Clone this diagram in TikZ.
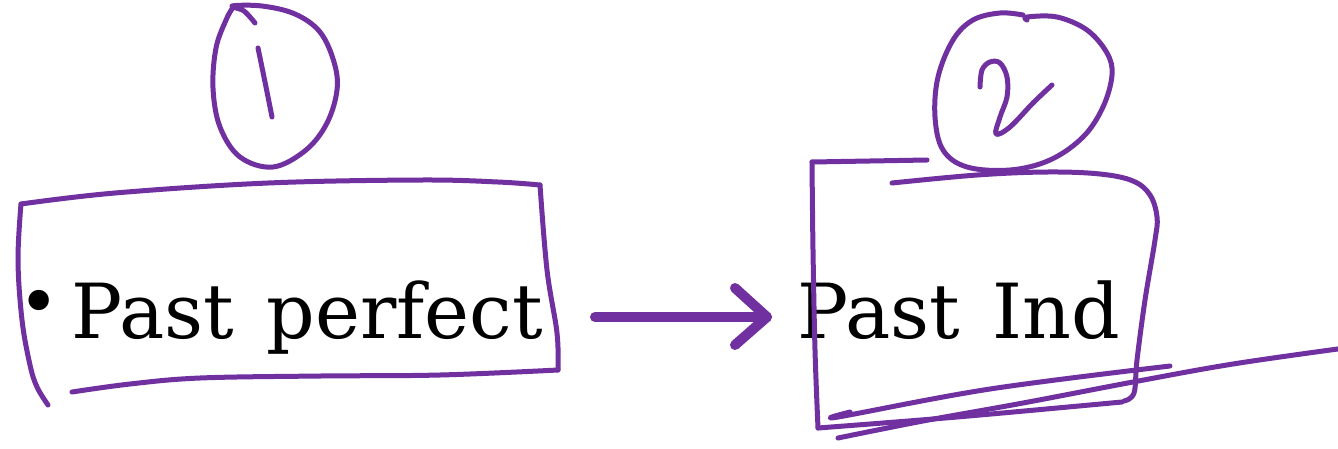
\documentclass[tikz,border=0pt]{standalone}
\usepackage{fontspec}
\setmainfont{DejaVu Serif}[WordSpace=1.35]
\usetikzlibrary{calc}
\definecolor{ink}{HTML}{7030A0}
\begin{document}
\begin{tikzpicture}[x=1pt,y=-1pt,
  pen/.style={draw=ink, line width=5pt, line cap=round, line join=round},
  fatpen/.style={draw=ink, line width=10pt, line cap=round, line join=round},
  word/.style={inner sep=0pt, anchor=base west, font=\fontsize{76}{90}\selectfont},
  freehand/.style={smooth, tension=0.6}]
\useasboundingbox[fill=white] (0,0) rectangle (1338,448);

% texts
\node[inner sep=0pt, font=\fontsize{70}{80}\selectfont] (bul) at (39,308) {•};
\node[word] (pp) at (71,338) {Past perfect};
\node[word] (pi) at (797,338) {Past Ind};

% arrow between the two items
\coordinate (a1) at (595,317);
\coordinate (a2) at (767,317);
\draw[fatpen] (a1) -- (a2);
\draw[fatpen] ($(a2)+(-32,-29)$) -- (a2) -- ($(a2)+(-32,28)$);

% box around the first item
\draw[pen] plot[freehand] coordinates {(48,405) (37,387) (30,365) (22,320) (18,260) (21,204)};
\draw[pen] plot[freehand] coordinates {(21,204) (115,193) (268,183) (421,180) (498,182) (540,185)};
\draw[pen] plot[freehand] coordinates {(540,185) (547,270) (557,333) (558,370)};
\draw[pen] plot[freehand] coordinates {(558,370) (440,375) (320,376) (200,378) (130,384) (72,392)};

% circled 1
\draw[pen] plot[freehand] coordinates {(255,23) (244,11) (232,6) (262,6) (295,14) (320,32) (334,62) (337,90) (327,123) (306,150) (273,167) (240,157) (220,127) (213,88) (216,48) (226,20) (232,9)};
\draw[pen] plot[freehand] coordinates {(258,48) (265,82) (272,117)};

% box around the second item
\draw[pen] (927,160) -- (812,162);
\draw[pen] plot[freehand] coordinates {(812,162) (813,250) (815,350) (818,428)};
\draw[pen] plot[freehand] coordinates {(818,428) (957,417) (1122,402)};
\draw[pen] plot[freehand] coordinates {(892,183) (977,175) (1047,172) (1100,174) (1133,181) (1150,195) (1157,217) (1155,240) (1145,300) (1137,360) (1134,393) (1124,401)};

% circled 2
\draw[pen] plot[freehand] coordinates {(1027,20) (1027,17) (1057,17) (1087,30) (1107,53) (1112,75) (1103,107) (1083,137) (1050,160) (1010,170) (967,167) (943,150) (935,117) (938,77) (953,40) (973,20) (1000,13) (1023,15)};
\draw[pen] plot[freehand] coordinates {(980,87) (982,70) (990,62) (1000,63) (1007,77) (1007,97) (1000,117) (996,134) (1010,127) (1033,103) (1052,85)};

% strike-through strokes under the second item
\draw[pen] plot[freehand] coordinates {(850,412) (838,417) (990,389) (1170,366)};
\draw[pen] plot[freehand] coordinates {(838,438) (923,421) (1023,403) (1133,382) (1233,364) (1345,348)};
\end{tikzpicture}
\end{document}
